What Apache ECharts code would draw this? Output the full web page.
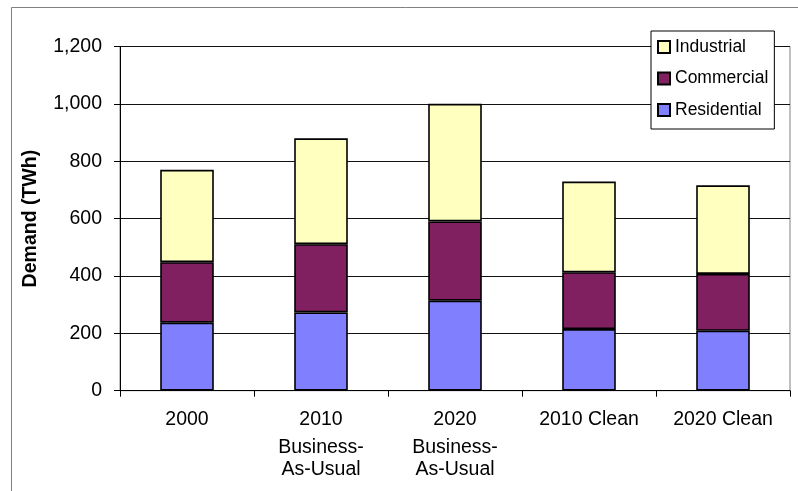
<!DOCTYPE html>
<html>
<head>
<meta charset="utf-8">
<script src="https://cdn.jsdelivr.net/npm/echarts@6/dist/echarts.min.js"></script>
<style>html,body{margin:0;padding:0;background:#fff;}#c{width:798px;height:491px;}</style>
</head>
<body>
<div id="c"></div>
<script>
const categories = ['2000', '2010\nBusiness-\nAs-Usual', '2020\nBusiness-\nAs-Usual', '2010 Clean', '2020 Clean'];
const residential = [237, 273, 314, 215, 209];
const commercial = [211, 238, 276, 198, 198];
const industrial = [322, 369, 410, 316, 309];
const yTicks = { min: 0, max: 1200, interval: 200 };

const FONT = 'Liberation Sans, Arial, sans-serif';
const chart = echarts.init(document.getElementById('c'), null, { renderer: 'canvas' });
function bar(name, data, color) {
  return {
    name: name, type: 'bar', stack: 'total', data: data, barWidth: '40%',
    itemStyle: { color: color, borderColor: '#000', borderWidth: 1.6 },
    emphasis: { disabled: true }
  };
}
chart.setOption({
  animation: false,
  backgroundColor: '#fff',
  graphic: [{
    type: 'rect', left: 9, top: 5, silent: true,
    shape: { width: 820, height: 520 },
    style: { fill: 'none', stroke: '#808080', lineWidth: 1 }
  }],
  legend: {
    orient: 'vertical', left: 651, top: 31,
    data: ['Industrial', 'Commercial', 'Residential'],
    itemWidth: 12, itemHeight: 12, itemGap: 11.5,
    icon: 'rect',
    padding: [6, 6, 9, 6],
    backgroundColor: '#fff', borderColor: '#000', borderWidth: 1,
    textStyle: { fontFamily: FONT, fontSize: 17.5, color: '#000', lineHeight: 20 }
  },
  grid: {
    left: 120, right: 8, top: 46.5, bottom: 100.3,
    show: true, borderColor: '#808080', borderWidth: 1, backgroundColor: 'transparent'
  },
  xAxis: {
    type: 'category', data: categories, boundaryGap: true,
    axisLine: { lineStyle: { color: '#000', width: 1 } },
    axisTick: { show: true, alignWithLabel: false, length: 6, lineStyle: { color: '#000' } },
    axisLabel: {
      interval: 0, margin: 12, color: '#000',
      formatter: function (v) {
        const parts = v.split('\n');
        return parts.map((p, i) => (i === 0 ? '{a|' + p + '}' : '{b|' + p + '}')).join('\n');
      },
      rich: {
        a: { fontFamily: FONT, fontSize: 19.5, color: '#000', lineHeight: 34 },
        b: { fontFamily: FONT, fontSize: 19.5, color: '#000', lineHeight: 22 }
      }
    }
  },
  yAxis: {
    type: 'value', min: yTicks.min, max: yTicks.max, interval: yTicks.interval,
    name: 'Demand (TWh)', nameLocation: 'middle', nameGap: 79,
    nameTextStyle: { fontFamily: FONT, fontSize: 19.5, fontWeight: 'bold', color: '#000' },
    axisLine: { show: true, lineStyle: { color: '#000', width: 1 } },
    axisTick: { show: true, length: 6, lineStyle: { color: '#000' } },
    splitLine: { show: true, lineStyle: { color: '#111', width: 1 } },
    axisLabel: {
      margin: 18, color: '#000', fontFamily: FONT, fontSize: 19.5,
      formatter: function (v) { return v.toLocaleString('en-US'); }
    }
  },
  series: [
    bar('Residential', residential, '#8080FF'),
    bar('Commercial', commercial, '#802060'),
    bar('Industrial', industrial, '#FFFFC0')
  ]
});
</script>
</body>
</html>
